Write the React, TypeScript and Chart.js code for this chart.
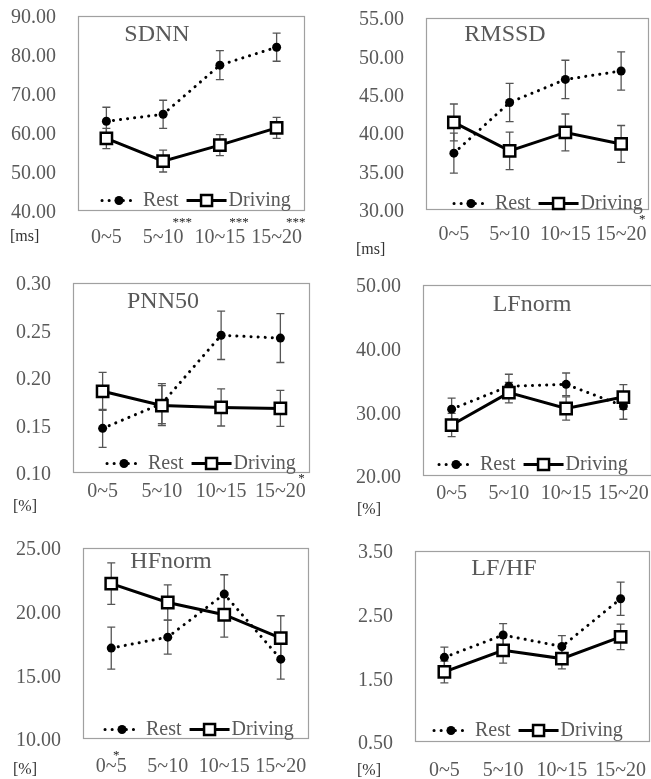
import React, { useEffect, useRef } from 'react';
import { Chart, registerables } from 'chart.js';

Chart.register(...registerables);

const FONT = "'Liberation Serif', 'Times New Roman', serif";
const GREY = '#595959';

const categories = ['0~5', '5~10', '10~15', '15~20'];
const seriesNames = ['Rest', 'Driving'];

// SDNN [ms]
const sdnnRest = [63.0, 64.8, 77.4, 82.0];
const sdnnRestErr = [3.6, 3.6, 3.7, 3.6];
const sdnnDriving = [58.6, 52.8, 56.9, 61.3];
const sdnnDrivingErr = [2.6, 2.8, 2.7, 2.7];
const sdnnTicks = [40, 50, 60, 70, 80, 90];
const sdnnStars = ['', '***', '***', '***'];

// RMSSD [ms]
const rmssdRest = [37.4, 44.0, 47.0, 48.1];
const rmssdRestErr = [2.6, 2.5, 2.5, 2.5];
const rmssdDriving = [41.4, 37.7, 40.1, 38.6];
const rmssdDrivingErr = [2.4, 2.45, 2.4, 2.4];
const rmssdTicks = [30, 35, 40, 45, 50, 55];
const rmssdStars = ['', '', '', '*'];

// PNN50 [%]
const pnn50Rest = [0.147, 0.173, 0.245, 0.242];
const pnn50RestErr = [0.02, 0.021, 0.0255, 0.0257];
const pnn50Driving = [0.186, 0.171, 0.169, 0.168];
const pnn50DrivingErr = [0.02, 0.021, 0.0195, 0.019];
const pnn50Ticks = [0.1, 0.15, 0.2, 0.25, 0.3];
const pnn50Stars = ['', '', '', '*'];

// LFnorm [%]
const lfRest = [30.5, 34.1, 34.4, 31.0];
const lfRestErr = [1.73, 1.88, 1.78, 2.09];
const lfDriving = [28.0, 33.1, 30.6, 32.4];
const lfDrivingErr = [1.83, 1.6, 1.83, 1.94];
const lfTicks = [20, 30, 40, 50];
const lfStars = ['', '', '', ''];

// HFnorm [%]
const hfRest = [17.14, 18.0, 21.38, 16.27];
const hfRestErr = [1.65, 1.34, 1.52, 1.57];
const hfDriving = [22.2, 20.72, 19.76, 17.92];
const hfDrivingErr = [1.63, 1.39, 1.76, 1.76];
const hfTicks = [10, 15, 20, 25];
const hfStars = ['*', '', '', ''];

// LF/HF
const ratioRest = [1.83, 2.18, 2.0, 2.75];
const ratioRestErr = [0.16, 0.18, 0.17, 0.26];
const ratioDriving = [1.6, 1.94, 1.81, 2.15];
const ratioDrivingErr = [0.17, 0.2, 0.16, 0.2];
const ratioTicks = [0.5, 1.5, 2.5, 3.5];
const ratioStars = ['', '', '', ''];

type Rect = { x: number; y: number; w: number; h: number };
type Box = { l: number; t: number; r: number; b: number };
type Layout = {
  canvas: Rect;
  box: Box;
  xTick: number;
  titleAt: [number, number];
  legendAt: [number, number];
  unitAt: [number, number];
  starDx: number;
  starDy: number;
};

type PanelDef = {
  title: string;
  unit: string;
  rest: number[];
  restErr: number[];
  driving: number[];
  drivingErr: number[];
  ticks: number[];
  stars: string[];
  layout: Layout;
};

const panels: PanelDef[] = [
  {
    title: 'SDNN', unit: '[ms]', rest: sdnnRest, restErr: sdnnRestErr, driving: sdnnDriving, drivingErr: sdnnDrivingErr,
    ticks: sdnnTicks, stars: sdnnStars,
    layout: { canvas: { x: 0, y: 0, w: 330, h: 258 }, box: { l: 78, t: 16, r: 305, b: 211 }, xTick: 15,
      titleAt: [157, 35], legendAt: [100, 200.5], unitAt: [10, 237], starDx: 19, starDy: -14 },
  },
  {
    title: 'RMSSD', unit: '[ms]', rest: rmssdRest, restErr: rmssdRestErr, driving: rmssdDriving, drivingErr: rmssdDrivingErr,
    ticks: rmssdTicks, stars: rmssdStars,
    layout: { canvas: { x: 335, y: 0, w: 330, h: 258 }, box: { l: 426, t: 18, r: 649, b: 210 }, xTick: 13,
      titleAt: [505, 35], legendAt: [452, 203.5], unitAt: [356, 250], starDx: 21, starDy: -14 },
  },
  {
    title: 'PNN50', unit: '[%]', rest: pnn50Rest, restErr: pnn50RestErr, driving: pnn50Driving, drivingErr: pnn50DrivingErr,
    ticks: pnn50Ticks, stars: pnn50Stars,
    layout: { canvas: { x: 0, y: 258, w: 330, h: 262 }, box: { l: 73, t: 283, r: 310, b: 473 }, xTick: 7,
      titleAt: [163, 302], legendAt: [105, 463.5], unitAt: [13, 507], starDx: 21, starDy: -12 },
  },
  {
    title: 'LFnorm', unit: '[%]', rest: lfRest, restErr: lfRestErr, driving: lfDriving, drivingErr: lfDrivingErr,
    ticks: lfTicks, stars: lfStars,
    layout: { canvas: { x: 335, y: 258, w: 330, h: 262 }, box: { l: 423, t: 285, r: 652, b: 476 }, xTick: 6,
      titleAt: [532, 305], legendAt: [437, 464.5], unitAt: [357, 510], starDx: 21, starDy: -12 },
  },
  {
    title: 'HFnorm', unit: '[%]', rest: hfRest, restErr: hfRestErr, driving: hfDriving, drivingErr: hfDrivingErr,
    ticks: hfTicks, stars: hfStars,
    layout: { canvas: { x: 0, y: 520, w: 330, h: 259 }, box: { l: 83, t: 548, r: 309, b: 739 }, xTick: 16,
      titleAt: [171, 562], legendAt: [103, 729.5], unitAt: [13, 770], starDx: 5, starDy: -10 },
  },
  {
    title: 'LF/HF', unit: '[%]', rest: ratioRest, restErr: ratioRestErr, driving: ratioDriving, drivingErr: ratioDrivingErr,
    ticks: ratioTicks, stars: ratioStars,
    layout: { canvas: { x: 335, y: 520, w: 330, h: 259 }, box: { l: 415, t: 551, r: 650, b: 742 }, xTick: 17,
      titleAt: [504, 569], legendAt: [432, 730.5], unitAt: [357, 771], starDx: 21, starDy: -13 },
  },
];

const hiddenGrid = (len: number) => ({
  display: true,
  drawOnChartArea: false,
  drawTicks: true,
  tickLength: len,
  color: 'rgba(0,0,0,0)',
});

function Panel({ p }: { p: PanelDef }) {
  const ref = useRef<HTMLCanvasElement | null>(null);

  useEffect(() => {
    const L = p.layout;
    const AW = L.box.l - L.canvas.x;
    const PT = L.box.t - L.canvas.y;
    const PR = L.canvas.x + L.canvas.w - L.box.r;
    const XH = L.canvas.y + L.canvas.h - L.box.b;
    const errs = [p.restErr, p.drivingErr];

    const deco = {
      id: 'deco',
      beforeDatasetsDraw(chart: any) {
        const { ctx, chartArea: ca } = chart;
        const ys = chart.scales.y;
        ctx.save();
        ctx.strokeStyle = '#a0a0a0';
        ctx.lineWidth = 1.2;
        ctx.strokeRect(Math.round(ca.left) + 0.5, Math.round(ca.top) + 0.5,
          Math.round(ca.right - ca.left) - 1, Math.round(ca.bottom - ca.top) - 1);
        ctx.strokeStyle = '#555555';
        ctx.lineWidth = 1.3;
        chart.data.datasets.forEach((ds: any, di: number) => {
          const meta = chart.getDatasetMeta(di);
          meta.data.forEach((el: any, i: number) => {
            const v = ds.data[i];
            const e = errs[di][i];
            const x = el.x;
            const y1 = ys.getPixelForValue(v + e);
            const y2 = ys.getPixelForValue(v - e);
            ctx.beginPath();
            ctx.moveTo(x, y1); ctx.lineTo(x, y2);
            ctx.moveTo(x - 4, y1); ctx.lineTo(x + 4, y1);
            ctx.moveTo(x - 4, y2); ctx.lineTo(x + 4, y2);
            ctx.stroke();
          });
        });
        ctx.restore();
      },
      afterDraw(chart: any) {
        const { ctx, chartArea: ca } = chart;
        const xs = chart.scales.x;
        const ox = ca.left - L.box.l;
        const oy = ca.top - L.box.t;
        ctx.save();
        // title
        ctx.font = `24px ${FONT}`;
        ctx.fillStyle = GREY;
        ctx.textAlign = 'center';
        ctx.textBaseline = 'middle';
        ctx.fillText(p.title, L.titleAt[0] + ox, L.titleAt[1] + oy);

        // legend
        const lx = L.legendAt[0] + ox;
        const ly = L.legendAt[1] + oy;
        ctx.strokeStyle = '#000';
        ctx.lineWidth = 3;
        ctx.lineCap = 'round';
        ctx.setLineDash([0.1, 7]);
        ctx.beginPath(); ctx.moveTo(lx + 2, ly); ctx.lineTo(lx + 37, ly); ctx.stroke();
        ctx.setLineDash([]);
        ctx.fillStyle = '#000';
        ctx.beginPath(); ctx.arc(lx + 19, ly, 4.5, 0, Math.PI * 2); ctx.fill();
        ctx.font = `20px ${FONT}`;
        ctx.textAlign = 'left';
        ctx.fillStyle = GREY;
        let x = lx + 43;
        ctx.fillText(seriesNames[0], x, ly);
        x += ctx.measureText(seriesNames[0]).width + 8;
        ctx.lineCap = 'butt';
        ctx.beginPath(); ctx.moveTo(x, ly); ctx.lineTo(x + 40, ly); ctx.stroke();
        const s = 11;
        ctx.fillStyle = '#fff';
        ctx.fillRect(x + 20 - s / 2, ly - s / 2, s, s);
        ctx.lineWidth = 2.5;
        ctx.strokeRect(x + 20 - s / 2, ly - s / 2, s, s);
        x += 42;
        ctx.fillStyle = GREY;
        ctx.fillText(seriesNames[1], x, ly);

        // unit
        ctx.font = `16px ${FONT}`;
        ctx.fillStyle = '#333';
        ctx.textAlign = 'left';
        ctx.fillText(p.unit, L.unitAt[0] + ox, L.unitAt[1] + oy);

        // significance stars
        ctx.font = `13px ${FONT}`;
        ctx.fillStyle = '#222';
        ctx.textAlign = 'center';
        const labelMid = ca.bottom + L.xTick + 11;
        p.stars.forEach((st, i) => {
          if (!st) return;
          ctx.fillText(st, xs.getPixelForValue(i) + L.starDx, labelMid + L.starDy);
        });
        ctx.restore();
      },
    };

    const chart = new Chart(ref.current as HTMLCanvasElement, {
      type: 'line',
      data: {
        labels: categories,
        datasets: [
          {
            label: seriesNames[0], data: p.rest, borderColor: '#000', borderWidth: 3,
            borderDash: [0.1, 7], borderCapStyle: 'round', pointStyle: 'circle', pointRadius: 4.5,
            pointBackgroundColor: '#000', pointBorderColor: '#000', pointBorderWidth: 0, order: 1,
          },
          {
            label: seriesNames[1], data: p.driving, borderColor: '#000', borderWidth: 3,
            pointStyle: 'rect', pointRadius: 8, pointBackgroundColor: '#fff', pointBorderColor: '#000',
            pointBorderWidth: 2.5, order: 0,
          },
        ] as any,
      },
      options: {
        responsive: false,
        animation: false,
        events: [],
        layout: { padding: { left: 0, top: PT, right: PR, bottom: 0 } },
        plugins: { legend: { display: false }, tooltip: { enabled: false }, title: { display: false } },
        scales: {
          x: {
            type: 'category', offset: true,
            grid: hiddenGrid(L.xTick), border: { display: false },
            ticks: { color: GREY, font: { family: FONT, size: 20 }, padding: 0, maxRotation: 0, autoSkip: false },
            afterFit: (s: any) => { s.height = XH; },
          },
          y: {
            min: p.ticks[0], max: p.ticks[p.ticks.length - 1],
            grid: hiddenGrid(22), border: { display: false },
            ticks: { color: GREY, font: { family: FONT, size: 20 }, padding: 0, labelOffset: 2,
              callback: (v: any) => Number(v).toFixed(2) },
            afterBuildTicks: (s: any) => { s.ticks = p.ticks.map((v) => ({ value: v })); },
            afterFit: (s: any) => { s.width = AW; },
          },
        },
      } as any,
      plugins: [deco],
    });
    return () => chart.destroy();
  }, [p]);

  const c = p.layout.canvas;
  return (
    <canvas ref={ref} width={c.w} height={c.h}
      style={{ position: 'absolute', left: c.x, top: c.y, width: c.w, height: c.h }} />
  );
}

export default function App() {
  return (
    <div style={{ position: 'absolute', left: 0, top: 0, width: 651, height: 779, overflow: 'hidden', background: '#fff' }}>
      {panels.map((p) => <Panel key={p.title} p={p} />)}
    </div>
  );
}
